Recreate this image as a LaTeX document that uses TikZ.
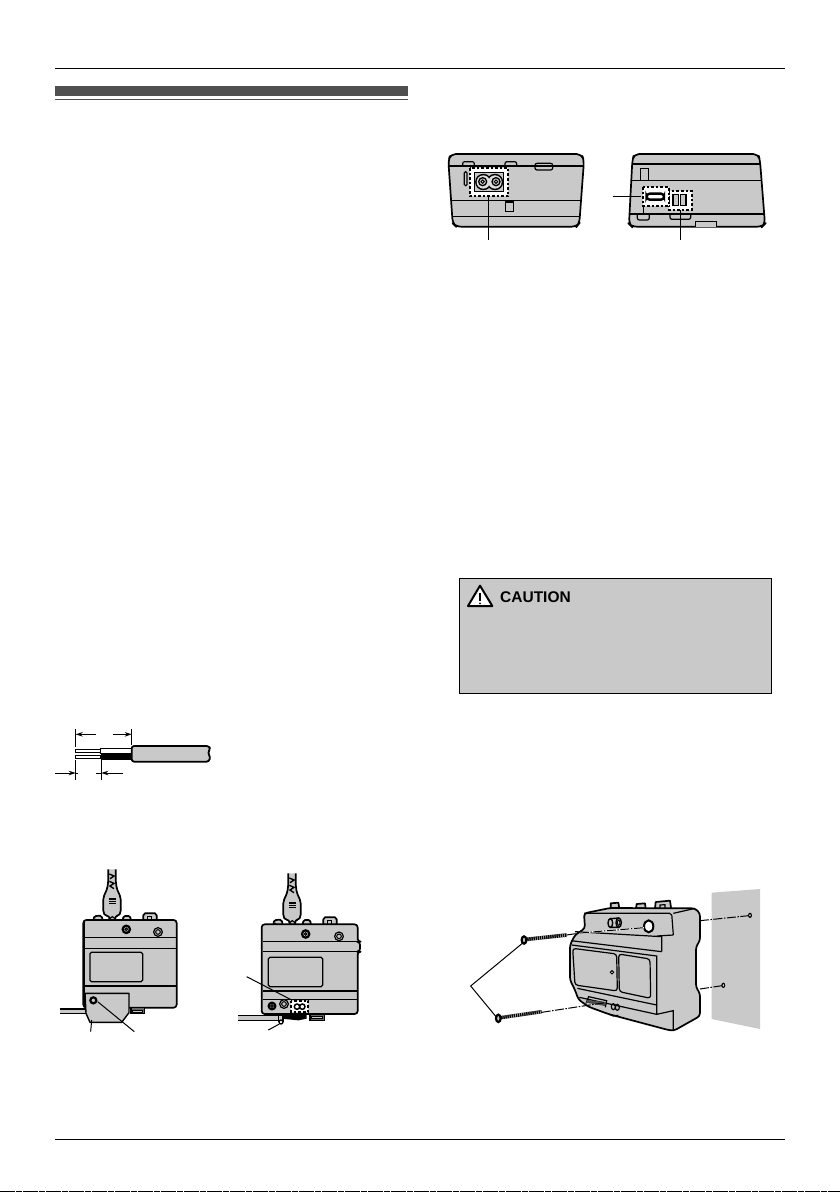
\documentclass[tikz,border=0pt]{standalone}
\usepackage{fontspec}
\setmainfont{Liberation Sans}
\usetikzlibrary{arrows.meta}
\definecolor{devgray}{HTML}{C9C9C9}
\definecolor{bargray}{HTML}{505050}
\tikzset{
  pagerule/.style={line width=1.2pt,black},
  outl/.style={draw=black,line width=1.7pt,fill=devgray,line join=round},
  thin line/.style={draw=black,line width=1.2pt},
  leader/.style={draw=black,line width=1pt},
  dashbox/.style={draw=black,fill=white,line width=1.7pt,dash pattern=on 2.6pt off 2pt},
  dimarrow/.style={draw=black,line width=1pt,-{Stealth[length=7pt,width=4.5pt]}},
  dashdot/.style={draw=black,line width=1pt,dash pattern=on 9pt off 1.5pt on 1.5pt off 1.5pt},
  zoomA/.style={shift={(430,140)},x=0.33333pt,y=-0.33333pt},
  zoomB/.style={shift={(40,710)},x=0.33333pt,y=-0.33333pt},
  zoomC/.style={shift={(50,860)},x=0.33333pt,y=-0.33333pt},
  zoomD/.style={shift={(225,860)},x=0.33333pt,y=-0.33333pt},
  zoomE/.style={shift={(460,880)},x=0.33333pt,y=-0.33333pt},
  zoomF/.style={shift={(450,570)},x=0.33333pt,y=-0.33333pt}
}
\newcommand{\plugpart}{%
  \draw[outl] (130,182) -- (132,172) -- (138,168) -- (150,167) -- (156,172) -- (158,182) -- cycle;
  \draw[outl] (218,182) -- (220,172) -- (225,168) -- (236,168) -- (241,172) -- (243,182) -- cycle;
  \draw[outl] (280,182) -- (280,166) -- (285,160) -- (315,160) -- (320,166) -- (320,182) -- cycle;
  \draw[thin line] (292,182) -- (292,169) -- (305,169) -- (305,182);
  \draw[draw=black,line width=1pt,fill=white] (136,181) circle [radius=3];
  \draw[outl,rounded corners=2pt] (175,28) -- (175,60) -- (172,85) -- (160,112) -- (160,158) -- (166,168) -- (178,168) -- (178,182)
     -- (196,182) -- (196,168) -- (206,168) -- (212,158) -- (212,112) -- (200,85) -- (197,60) -- (197,28);
  \draw[thin line,line width=1.4pt] (178,42) -- (192,48) -- (180,56) (178,64) -- (192,70) -- (180,78) -- (192,86);
  \draw[thin line] (178,117) -- (198,117) (178,124) -- (198,124) (178,131) -- (198,131);
  \draw[thin line] (180,182) -- (180,175) -- (187,170) -- (194,175) -- (194,182);
}
\begin{document}
\begin{tikzpicture}[x=1pt,y=-1pt]
\useasboundingbox (0,0) rectangle (840,1192);
\fill[white] (0,0) rectangle (840,1192);
% page rules
\draw[pagerule] (55,68.5) -- (785,68.5);
\draw[pagerule] (55,1139.5) -- (785,1139.5);
\fill[bargray] (55,86) rectangle (408,96);
\draw[bargray,line width=1.2pt] (55,99.3) -- (408,99.3);
\draw[black,line width=1pt,dash pattern=on 15pt off 1pt on 6pt off 1pt] (0,1191.6) -- (840,1191.6);

% ---------- top: left device
\begin{scope}[zoomA]
\draw[outl,rounded corners=5pt] (62,42) -- (455,42) -- (462,62) -- (448,250) -- (440,260) -- (78,260) -- (68,250) -- (55,62) -- cycle;
\draw[thin line] (58,78) -- (460,78);
\draw[thin line] (63,182) -- (455,182);
\draw[thin line] (67,230) -- (451,230);
\draw[thin line,rounded corners=2pt] (98,78) -- (98,65) -- (133,65) -- (133,78);
\draw[thin line,rounded corners=2pt] (225,78) -- (225,65) -- (260,65) -- (260,78);
\draw[thin line,rounded corners=2pt] (315,70) rectangle (368,90);
\draw[thin line,rounded corners=1.2pt] (103,95) rectangle (111,137);
\draw[thin line] (226,186) rectangle (250,214);
\draw[dashbox] (119,84) rectangle (235,169);
\draw[draw=black,line width=1.5pt,fill=devgray] (134,98) rectangle (220,155);
\draw[draw=black,line width=2.4pt,fill=devgray] (160,126) circle [radius=21] (195,126) circle [radius=21];
\fill[devgray!60!white] (160,126) circle [radius=20] (195,126) circle [radius=20];
\draw[draw=black,line width=1.3pt,fill=devgray] (158,125) circle [radius=12] (198,125) circle [radius=12];
\draw[draw=black,line width=1pt,fill=white] (158,125) circle [radius=5] (198,125) circle [radius=5];
\draw[leader] (176,169) -- (176,300);
\end{scope}

% ---------- top: right device
\begin{scope}[zoomA]
\draw[outl,rounded corners=5pt] (612,42) -- (985,42) -- (990,62) -- (1005,252) -- (997,260) -- (605,260) -- (597,252) -- (607,62) -- cycle;
\draw[thin line] (607,72) -- (990,72);
\draw[thin line] (602,122) -- (997,122);
\draw[thin line] (597,222) -- (1003,222);
\draw[thin line] (632,122) -- (632,85) -- (655,85) -- (655,122);
\draw[thin line,rounded corners=2pt] (622,222) -- (622,240) -- (658,240) -- (658,222);
\draw[thin line,rounded corners=2pt] (720,222) -- (720,238) -- (782,238) -- (782,222);
\draw[thin line] (640,197) -- (640,222);
\draw[draw=black,line width=1.1pt,fill=devgray] (797,260) -- (797,245) -- (860,245) -- (860,260);
\draw[dashbox] (716,153) rectangle (785,210);
\draw[dashbox] (638,141) rectangle (716,197);
\draw[draw=black,line width=2.4pt,fill=white,rounded corners=3pt] (650,161) rectangle (702,179);
\draw[draw=black,line width=1.6pt,fill=devgray] (729,164) rectangle (746,197) (751,164) rectangle (768,197);
\draw[leader] (550,169) -- (632,169);
\draw[leader] (750,210) -- (750,300);
\end{scope}

% ---------- cable
\begin{scope}[zoomB]
\draw[draw=black,line width=1pt,fill=white] (107,118) rectangle (182,126);
\draw[draw=black,line width=1pt,fill=white] (107,136) rectangle (182,146);
\draw[draw=black,line width=1.1pt,fill=white] (182,116) rectangle (275,131);
\fill[black] (182,131) rectangle (275,150);
\draw[outl,line width=1.8pt,rounded corners=2.5pt] (275,108) -- (507,108) -- (511,118) -- (503,128) -- (511,140) -- (507,155) -- (275,155) -- cycle;
\coordinate (extA) at (107,73);
\coordinate (extB) at (275,73);
\coordinate (extC) at (107,189);
\coordinate (extD) at (184,189);
\draw[leader] (107,57) -- (107,110);
\draw[leader] (275,57) -- (275,105);
\draw[leader] (107,150) -- (107,210);
\draw[leader] (184,150) -- (184,210);
\draw[dimarrow] (168,73) -- (extA);
\draw[dimarrow] (220,73) -- (extB);
\draw[dimarrow] (45,189) -- (extC);
\draw[leader] (107,189) -- (115,189);
\draw[dimarrow] (248,189) -- (extD);
\draw[leader] (184,189) -- (168,189);
\end{scope}

% ---------- bottom-left device
\begin{scope}[zoomC]
\plugpart
\draw[outl,rounded corners=3pt] (100,180) -- (380,180) -- (380,443) -- (100,443) -- cycle;
\draw[draw=black,line width=2.2pt] (101,185) -- (101,440);
\draw[thin line] (105,233) -- (380,233);
\draw[thin line] (105,265) -- (380,265);
\draw[thin line] (105,378) -- (380,378);
\draw[thin line,rounded corners=1.5pt] (120,277) rectangle (278,365);
\draw[draw=black,line width=2.2pt,fill=devgray] (229,208) circle [radius=11];
\draw[draw=black,line width=1pt,fill=devgray] (229,208) circle [radius=4];
\draw[draw=black,line width=1.2pt,fill=devgray] (324,216) circle [radius=13];
\draw[draw=black,line width=1pt,fill=devgray] (324,216) circle [radius=7];
\draw[draw=black,line width=1.2pt,fill=black!60] (243,443) rectangle (283,460);
\draw[draw=black,line width=1pt,fill=devgray] (248,450) rectangle (278,456);
\draw[draw=none,fill=devgray] (30,447) rectangle (108,461);
\draw[thin line] (30,447) -- (108,447) (30,461) -- (108,461);
\draw[outl,line width=1.4pt] (105,400) -- (237,400) -- (237,458) -- (215,487) -- (120,487) -- (108,460) -- cycle;
\draw[draw=black,line width=2.2pt,fill=devgray] (130,421) circle [radius=9];
\draw[leader] (125,480) -- (122,515);
\draw[leader] (143,425) -- (253,515);
\end{scope}

% ---------- bottom-middle device
\begin{scope}[zoomD]
\begin{scope}[shift={(15,12)}]
\plugpart
\end{scope}
\draw[outl,rounded corners=3pt] (110,193) -- (398,193) -- (398,245) -- (405,245) -- (405,275) -- (398,275) -- (398,462) -- (110,462) -- cycle;
\draw[thin line] (115,245) -- (398,245);
\draw[thin line] (115,275) -- (398,275);
\draw[thin line] (115,393) -- (398,393);
\draw[thin line] (115,418) -- (398,418);
\draw[thin line,rounded corners=1.5pt] (130,292) rectangle (293,380);
\draw[draw=black,line width=2.2pt,fill=devgray] (242,222) circle [radius=11];
\draw[draw=black,line width=1pt,fill=devgray] (242,222) circle [radius=4];
\draw[draw=black,line width=1.2pt,fill=devgray] (342,229) circle [radius=13];
\draw[draw=black,line width=1pt,fill=devgray] (342,229) circle [radius=7];
\draw[draw=black,line width=2.2pt,fill=devgray] (141,438) circle [radius=10];
\draw[draw=black,line width=1pt,fill=devgray] (141,438) circle [radius=4];
\draw[draw=black,line width=1.2pt,fill=devgray] (177,432) circle [radius=13];
\draw[draw=black,line width=1pt,fill=devgray] (177,432) circle [radius=7];
\draw[dashbox] (198,422) rectangle (250,455);
\draw[draw=black,line width=1.5pt,fill=white] (216,440) circle [radius=8] (232,440) circle [radius=8];
\draw[draw=black,line width=1.5pt,fill=black!60] (255,462) rectangle (298,482);
\draw[draw=black,line width=1pt,fill=devgray] (260,470) rectangle (292,476);
\draw[draw=none,fill=devgray] (40,466) rectangle (172,481);
\draw[thin line] (40,466) -- (172,466) (40,481) -- (172,481);
\fill[black] (170,462) -- (245,462) -- (245,476) -- (220,481) -- (170,476) -- cycle;
\draw[draw=black,line width=1.1pt,fill=devgray] (160,465) rectangle (174,485);
\draw[draw=black,line width=1.3pt,fill=white] (168,486) circle [radius=6];
\draw[leader] (65,350) -- (200,420);
\draw[leader] (130,510) -- (163,492);
\end{scope}

% ---------- caution box
\begin{scope}[zoomF]
\draw[draw=black,line width=1.1pt,fill=devgray] (28,25) rectangle (965,370);
\draw[draw=black,line width=2pt,fill=white,line join=round] (90,47) -- (127,108) -- (54,108) -- cycle;
\draw[black,line width=2pt] (90,70) -- (90,92);
\fill[black] (90,100) circle [radius=3];
\node[anchor=base west,inner sep=0pt,font=\bfseries\fontsize{15.5}{18}\selectfont] (cautiontext) at (150,97) {CAUTION};
\end{scope}

% ---------- wall mount
\begin{scope}[zoomE]
\fill[devgray] (755,38) -- (900,27) -- (900,447) -- (755,417) -- cycle;
% top tabs
\draw[outl] (452,90) -- (452,70) -- (475,68) -- (478,85) -- cycle;
\draw[outl] (528,85) -- (530,72) -- (555,70) -- (557,85) -- cycle;
\draw[outl] (585,85) -- (587,66) -- (630,62) -- (634,90) -- cycle;
\draw[thin line] (600,85) -- (600,75) -- (615,74) -- (615,85);
% body
\draw[outl,rounded corners=3pt] (372,100) -- (450,84) -- (705,85) -- (720,100) -- (720,182) -- (708,200) -- (708,322) -- (720,340) -- (720,408) -- (642,452) -- (625,450) -- (445,402) -- (385,380) -- (355,358) -- (345,330) -- (330,300) -- (330,195) -- (345,165) -- (375,145) -- cycle;
\draw[thin line,rounded corners=2pt] (372,100) -- (635,100) -- (640,165);
\draw[thin line] (640,100) -- (705,85);
\draw[thin line] (345,155) -- (605,170) -- (605,215);
\draw[thin line] (333,182) -- (605,215);
\draw[thin line] (590,168) -- (640,165);
\draw[thin line,rounded corners=3pt] (338,205) -- (470,222) -- (472,333) -- (345,315) -- cycle;
\draw[thin line,rounded corners=3pt] (476,222) -- (570,237) -- (572,355) -- (478,335) -- cycle;
\draw[thin line] (335,195) -- (590,228) -- (590,375);
\draw[draw=black,line width=1pt,fill=white] (456,277) circle [radius=5];
\draw[thin line] (352,325) -- (590,375) -- (590,403) -- (640,392) -- (640,452);
\draw[thin line] (358,352) -- (590,403);
% knob and hole
\draw[draw=black,line width=1.4pt,fill=devgray] (451,116) -- (476,114) -- (476,142) -- (451,142) -- cycle;
\draw[draw=black,line width=1.4pt,fill=devgray] (451,129) ellipse [x radius=7,y radius=13];
\draw[draw=black,line width=1.4pt,fill=devgray] (476,128) ellipse [x radius=8,y radius=14];
\draw[draw=black,line width=1pt,fill=devgray] (476,128) ellipse [x radius=4,y radius=8];
\draw[draw=black,line width=2pt,fill=white] (566,139) ellipse [x radius=14,y radius=18];
% bottom details
\draw[thin line] (378,370) -- (386,350) -- (440,362) -- (436,382);
\fill[black!70] (382,360) -- (438,366) -- (434,378) -- (378,368) -- cycle;
\draw[thin line] (460,380) ellipse [x radius=6,y radius=9] (472,382) ellipse [x radius=6,y radius=9];
\draw[thin line] (445,402) -- (460,408) -- (475,406);
% screws
\draw[black,line width=3.6pt] (200,178) -- (320,165);
\draw[devgray,line width=3.6pt,dash pattern=on 0.5pt off 1.6pt] (200,178) -- (320,165);
\draw[draw=black,line width=2.2pt,fill=devgray] (192,180) ellipse [x radius=7,y radius=11];
\draw[black,line width=3.4pt] (122,413) -- (245,395);
\draw[devgray,line width=3.4pt,dash pattern=on 0.5pt off 1.6pt] (122,413) -- (245,395);
\draw[draw=black,line width=2.2pt,fill=devgray] (115,415) ellipse [x radius=7,y radius=11];
% axes
\draw[dashdot] (320,165) -- (360,159);
\draw[white,line width=1.4pt] (360,159) -- (552,143);
\draw[dashdot] (360,159) -- (552,143);
\draw[dashdot] (245,397) -- (435,368);
\draw[dashdot] (720,122) -- (866,107);
\draw[dashdot] (720,327) -- (786,317);
\draw[draw=black,line width=1.2pt,fill=white] (870,106) ellipse [x radius=4,y radius=6];
\draw[draw=black,line width=1.2pt,fill=white] (790,316) ellipse [x radius=4,y radius=6];
% leader V
\draw[leader] (187,190) -- (32,318) -- (108,410);
\end{scope}
\end{tikzpicture}
\end{document}
